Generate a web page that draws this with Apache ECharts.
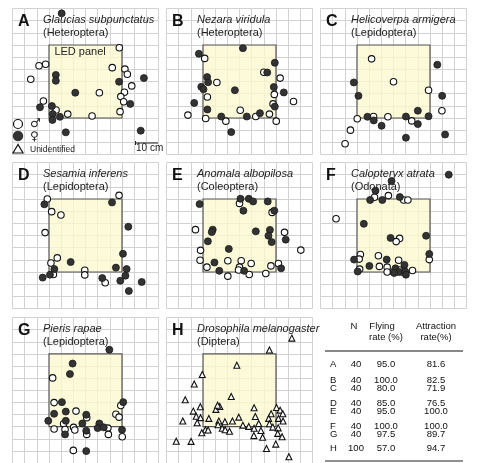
<!DOCTYPE html>
<html>
<head>
<meta charset="utf-8">
<script src="https://cdn.jsdelivr.net/npm/echarts@6/dist/echarts.min.js"></script>
<style>
  html, body { margin: 0; padding: 0; background: #fff; }
  #main { width: 479px; height: 463px; }
</style>
</head>
<body>
<div id="main"></div>
<script>
// 面板标题
const panelLetters = ['A', 'B', 'C', 'D', 'E', 'F', 'G', 'H']
const speciesNames = ['Glaucias subpunctatus', 'Nezara viridula', 'Helicoverpa armigera', 'Sesamia inferens',
  'Anomala albopilosa', 'Calopteryx atrata', 'Pieris rapae', 'Drosophila melanogaster']
const orderNames = ['(Heteroptera)', '(Heteroptera)', '(Lepidoptera)', '(Lepidoptera)',
  '(Coleoptera)', '(Odonata)', '(Lepidoptera)', '(Diptera)']

// 虫体位置 (cm, LED 面板中心为原点)
const maleA = [[13.9, 13.9], [-19.1, 6.5], [-16.4, 7.1], [-22.5, 0.9], [11.0, 5.7], [16.2, 5.1], [17.2, 3.0], [19.0, -1.8], [5.7, -4.6], [16.0, -4.4], [14.5, -6.2], [15.7, -8.3], [-17.3, -8.0], [-12.1, -11.7], [14.2, -12.4], [-7.3, -13.4], [2.7, -14.2]]
const femaleA = [[-9.8, 28.0], [-12.2, 2.7], [-12.2, 0.3], [24.0, 1.4], [13.8, -0.1], [-4.2, -4.6], [18.4, -9.2], [-18.7, -10.6], [-13.8, -10.1], [-13.5, -13.4], [-10.5, -14.5], [-13.6, -15.8], [-8.1, -20.9], [22.7, -20.2]]
const maleB = [[-14.3, 9.5], [10.0, 3.8], [16.7, 1.4], [-9.3, -0.4], [14.3, -5.3], [-13.2, -6.4], [22.2, -8.2], [13.8, -9.2], [0.3, -11.8], [-21.2, -13.8], [12.3, -13.4], [6.7, -14.4], [-13.9, -15.2], [-5.6, -16.3], [15.1, -16.3]]
const femaleB = [[1.4, 13.7], [-16.7, 11.4], [14.5, 7.7], [11.4, 3.7], [-13.3, 1.8], [-12.9, -0.3], [-15.7, -2.2], [-14.8, -3.2], [-1.9, -3.6], [14.1, -2.3], [18.2, -4.5], [-18.6, -8.8], [14.5, -10.3], [-13.2, -11.5], [-7.5, -14.4], [3.0, -14.4], [8.4, -13.0], [-3.4, -20.8]]
const maleC = [[-9.0, 9.3], [0, -0.1], [14.4, -3.6], [19.9, -12.0], [-14.9, -15.3], [-8.2, -14.4], [-2.3, -14.5], [7.5, -16.2], [-17.7, -20.0], [-19.9, -25.6]]
const femaleC = [[18.0, 6.9], [-16.3, -0.4], [-14.4, -5.9], [20.0, -5.9], [10.0, -12.0], [-10.7, -14.5], [-8.1, -16.0], [5.1, -14.4], [14.4, -14.3], [-4.9, -18.2], [10.0, -17.5], [21.2, -21.8], [5.1, -23.1]]
const maleD = [[-15.7, 15.0], [13.8, 16.5], [-13.9, 9.8], [-10.1, 8.4], [-16.6, 1.2], [-11.6, -9.2], [-14.2, -11.3], [-13.2, -16.0], [-0.3, -14.3], [-0.3, -16.2], [8.1, -19.4]]
const femaleD = [[-16.9, 12.8], [10.9, 13.6], [17.6, 3.6], [15.4, -7.5], [-6.1, -10.9], [-12.8, -13.8], [-14.6, -16.1], [-17.6, -17.3], [12.5, -13.2], [16.9, -13.8], [16.4, -16.5], [6.9, -17.5], [14.3, -18.6], [23.1, -19.1], [17.8, -22.8]]
const maleE = [[0, 13.2], [13.4, 9.5], [-18.1, 2.4], [18.5, 1.3], [-16.0, -6.1], [25.2, -6.0], [-16.2, -10.2], [-4.8, -10.4], [0.7, -10.4], [4.8, -11.5], [16.0, -11.5], [-13.4, -13.0], [12.9, -12.5], [0, -13.0], [-0.4, -14.2], [4.0, -16.0], [-4.8, -16.7], [10.8, -15.6]]
const femaleE = [[-16.4, 12.9], [0.4, 15.1], [3.8, 15.1], [5.6, 14.0], [11.6, 14.0], [1.6, 10.2], [14.3, 10.2], [-11.0, 2.4], [-11.4, 1.4], [6.7, 1.7], [12.5, 2.3], [11.9, -0.1], [-13.0, -2.4], [13.2, -2.7], [19.0, -1.7], [-4.4, -5.5], [-10.3, -11.1], [-8.3, -14.5], [1.9, -14.5], [17.1, -13.5]]
const maleF = [[-7.8, 15.7], [-2.1, 16.4], [4.2, 14.6], [5.9, 14.6], [-23.6, 6.9], [2.5, -1.2], [1.1, -2.5], [-13.6, -7.8], [-14.1, -9.7], [14.7, -9.9], [-6.2, -8.3], [2.1, -10.2], [-5.8, -12.7], [-2.6, -13.0], [-13.9, -13.8], [-2.6, -15.0], [2.5, -14.2], [7.8, -14.4], [3.6, -15.0], [0, -15.0]]
const femaleF = [[22.7, 25.0], [-0.8, 22.4], [-7.4, 18.4], [-9.6, 14.6], [-4.6, 14.6], [2.6, 15.8], [-12.2, 4.8], [-1.2, -1.0], [13.4, -0.1], [14.7, -7.6], [-16.2, -9.9], [-2.8, -9.9], [-9.9, -12.5], [-14.7, -14.8], [0.8, -13.5], [4.5, -12.1], [2.2, -15.0], [4.8, -14.8], [0.3, -15.4], [5.1, -16.1]]
const maleG = [[-13.5, 5.1], [-12.9, -5.1], [-3.9, -8.6], [14.5, -6.3], [12.5, -9.9], [13.8, -11.1], [0.5, -11.3], [-9.0, -13.8], [-4.9, -15.3], [-4.4, -16.4], [-12.9, -16.0], [-8.4, -16.2], [9.2, -15.6], [0.5, -18.2], [9.4, -18.2], [15.1, -19.2], [-5.0, -24.8]]
const femaleG = [[9.8, 16.7], [-5.3, 11.0], [-6.4, 6.7], [-9.7, -4.9], [15.5, -4.9], [-8.1, -8.8], [-12.9, -9.7], [-15.3, -12.6], [-8.1, -12.6], [0.3, -10.1], [-1.3, -13.7], [5.7, -13.7], [5.0, -15.6], [7.5, -15.3], [15.0, -16.3], [0.3, -16.7], [-8.4, -18.2], [0.3, -25.1]]
const unidentifiedH = [[21.5, 21.5], [12.3, 16.6], [-1.1, 10.3], [-15.3, 6.5], [-18.6, 2.6], [-3.4, -2.6], [-22.3, -3.9], [-16.1, -6.8], [-19.0, -8.6], [-9.7, -7.9], [-8.1, -6.7], [-9.0, -6.2], [6.0, -7.2], [15.2, -7.1], [16.7, -8.2], [17.8, -9.7], [13.0, -9.7], [-17.8, -10.7], [-16.0, -11.3], [-12.6, -11.6], [6.5, -10.8], [12.0, -11.6], [16.0, -11.6], [17.9, -12.7], [-23.3, -12.7], [-17.4, -13.4], [-8.5, -12.7], [-6.0, -13.0], [-2.9, -12.7], [-0.3, -11.1], [7.9, -13.7], [12.3, -13.8], [-8.8, -14.2], [-7.1, -15.7], [-5.9, -16.3], [-4.1, -16.9], [1.4, -14.4], [3.8, -14.9], [6.0, -15.7], [8.8, -16.6], [13.7, -15.2], [15.9, -15.5], [-14.0, -16.3], [-12.9, -16.4], [-15.5, -17.5], [5.9, -18.7], [9.5, -19.4], [15.7, -17.8], [17.5, -19.2], [-26.0, -21.0], [-19.9, -21.1], [14.9, -22.2], [11.1, -24.0], [20.3, -27.4]]

const maleSets = [maleA, maleB, maleC, maleD, maleE, maleF, maleG, null]
const femaleSets = [femaleA, femaleB, femaleC, femaleD, femaleE, femaleF, femaleG, null]

// 右下角表格
const tableLetters = ['A', 'B', 'C', 'D', 'E', 'F', 'G', 'H']
const tableN = ['40', '40', '40', '40', '40', '40', '40', '100']
const flyingRate = ['95.0', '100.0', '80.0', '85.0', '95.0', '100.0', '97.5', '57.0']
const attractionRate = ['81.6', '82.5', '71.9', '76.5', '100.0', '100.0', '89.7', '94.7']

const FONT = '"Liberation Sans", Arial, Helvetica, sans-serif'
const colLeft = [12.5, 166.5, 320.5]
const rowTop = [8.5, 162.5, 317.5]
const SIZE = 146

const grids = []
const xAxes = []
const yAxes = []
const series = []
const graphics = []

function makeAxis (i) {
  return {
    type: 'value',
    gridIndex: i,
    min: -30,
    max: 30,
    interval: 5,
    axisLine: { show: false },
    axisTick: { show: false },
    axisLabel: { show: false },
    splitLine: { show: true, lineStyle: { color: '#d2d2d2', width: 1 } }
  }
}

panelLetters.forEach((letter, i) => {
  const left = colLeft[i % 3]
  const top = rowTop[Math.floor(i / 3)]
  grids.push({ left: left, top: top, width: SIZE, height: SIZE })
  xAxes.push(makeAxis(i))
  yAxes.push(makeAxis(i))

  const ledArea = {
    silent: true,
    z: 1,
    itemStyle: { color: 'rgba(252, 249, 208, 0.78)', borderColor: '#555', borderWidth: 1.2 },
    label: i === 0
      ? { show: true, formatter: 'LED panel', position: [6, 2], fontSize: 11, fontFamily: FONT, color: '#222' }
      : { show: false },
    data: [[{ coord: [-15, -15] }, { coord: [15, 15] }]]
  }

  if (maleSets[i]) {
    series.push({
      type: 'scatter',
      name: '♂',
      xAxisIndex: i,
      yAxisIndex: i,
      symbol: 'circle',
      symbolSize: 6.5,
      z: 3,
      silent: true,
      itemStyle: { color: '#fff', borderColor: '#111', borderWidth: 1.1, opacity: 1 },
      data: maleSets[i],
      markArea: ledArea
    })
    series.push({
      type: 'scatter',
      name: '♀',
      xAxisIndex: i,
      yAxisIndex: i,
      symbol: 'circle',
      symbolSize: 7,
      z: 3,
      silent: true,
      itemStyle: { color: '#333', borderColor: '#1a1a1a', borderWidth: 0.8, opacity: 1 },
      data: femaleSets[i]
    })
  } else {
    series.push({
      type: 'scatter',
      name: 'Unidentified',
      xAxisIndex: i,
      yAxisIndex: i,
      symbol: 'triangle',
      symbolSize: 6,
      z: 3,
      silent: true,
      itemStyle: { color: '#fff', borderColor: '#111', borderWidth: 1.1, opacity: 1 },
      data: unidentifiedH,
      markArea: ledArea
    })
  }

  // 标题
  const ledLeft = left + 36.5
  const ledTop = top + 36.5
  graphics.push({
    type: 'text', x: ledLeft - 31, y: ledTop - 23, z: 10,
    style: { text: letter, font: 'bold 16px ' + FONT, fill: '#111', textVerticalAlign: 'middle', verticalAlign: 'middle' }
  })
  graphics.push({
    type: 'text', x: ledLeft - 6, y: ledTop - 25.5, z: 10,
    style: { text: speciesNames[i], font: 'italic 11px ' + FONT, fill: '#222', textVerticalAlign: 'middle', verticalAlign: 'middle' }
  })
  graphics.push({
    type: 'text', x: ledLeft - 6, y: ledTop - 12, z: 10,
    style: { text: orderNames[i], font: '11px ' + FONT, fill: '#222', textVerticalAlign: 'middle', verticalAlign: 'middle' }
  })
})

// 图例 (面板 A 左下)
graphics.push({ type: 'circle', shape: { cx: 18, cy: 124, r: 4.5 }, z: 10, style: { fill: '#fff', stroke: '#111', lineWidth: 1.2 } })
graphics.push({ type: 'circle', shape: { cx: 18, cy: 136, r: 4.8 }, z: 10, style: { fill: '#333', stroke: '#1a1a1a', lineWidth: 0.8 } })
graphics.push({ type: 'polygon', shape: { points: [[18, 144.5], [13, 153], [23, 153]] }, z: 10, style: { fill: '#fff', stroke: '#111', lineWidth: 1.2 } })
graphics.push({ type: 'text', x: 30, y: 124, z: 10, style: { text: '♂', font: '12px "DejaVu Sans", sans-serif', fill: '#222', textVerticalAlign: 'middle', verticalAlign: 'middle' } })
graphics.push({ type: 'text', x: 30, y: 137, z: 10, style: { text: '♀', font: '12px "DejaVu Sans", sans-serif', fill: '#222', textVerticalAlign: 'middle', verticalAlign: 'middle' } })
graphics.push({ type: 'text', x: 30, y: 149.5, z: 10, style: { text: 'Unidentified', font: '8.5px ' + FONT, fill: '#222', textVerticalAlign: 'middle', verticalAlign: 'middle' } })

// 比例尺
graphics.push({ type: 'line', shape: { x1: 135, y1: 143, x2: 158, y2: 143 }, z: 10, style: { stroke: '#222', lineWidth: 1 } })
graphics.push({ type: 'line', shape: { x1: 135.5, y1: 141, x2: 135.5, y2: 145 }, z: 10, style: { stroke: '#222', lineWidth: 1 } })
graphics.push({ type: 'text', x: 136, y: 148, z: 10, style: { text: '10 cm', font: '10px ' + FONT, fill: '#222', textVerticalAlign: 'middle', verticalAlign: 'middle' } })

// 表格
const TFONT = '9.5px ' + FONT
const colN = 356
const colFly = 386
const colAttr = 436
function cell (text, x, y, align) {
  graphics.push({
    type: 'text', x: x, y: y, z: 10,
    style: { text: text, font: TFONT, fill: '#111', textAlign: align, align: align, textVerticalAlign: 'middle', verticalAlign: 'middle' }
  })
}
cell('N', colN - 2, 326, 'center')
cell('Flying', colFly - 4, 326, 'center')
cell('rate (%)', colFly, 337, 'center')
cell('Attraction', colAttr, 326, 'center')
cell('rate(%)', colAttr, 337, 'center')
graphics.push({ type: 'line', shape: { x1: 325, y1: 351, x2: 463, y2: 351 }, z: 10, style: { stroke: '#888', lineWidth: 2 } })
graphics.push({ type: 'line', shape: { x1: 325, y1: 461, x2: 463, y2: 461 }, z: 10, style: { stroke: '#222', lineWidth: 1.2 } })
const rowY = [364, 380, 388, 403, 411, 426, 434, 448]
tableLetters.forEach((t, i) => {
  cell(t, 330, rowY[i], 'left')
  cell(tableN[i], colN, rowY[i], 'center')
  cell(flyingRate[i], colFly, rowY[i], 'center')
  cell(attractionRate[i], colAttr, rowY[i], 'center')
})

const myChart = echarts.init(document.getElementById('main'), null, { renderer: 'canvas' })
myChart.setOption({
  animation: false,
  backgroundColor: '#fff',
  grid: grids,
  xAxis: xAxes,
  yAxis: yAxes,
  series: series,
  graphic: { elements: graphics }
})
</script>
</body>
</html>
